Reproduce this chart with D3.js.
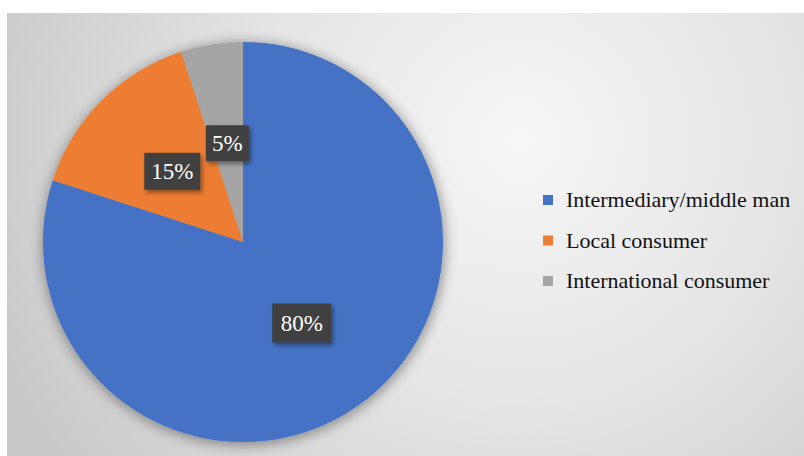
<!DOCTYPE html>
<html>
<head>
<meta charset="utf-8">
<script src="https://cdn.jsdelivr.net/npm/d3@7"></script>
<style>
  html, body { margin: 0; padding: 0; background: #fff; }
  svg { display: block; }
</style>
</head>
<body>
<svg id="chart" width="804" height="456"></svg>
<script>
// Buyer shares (percent)
const categories = ["Intermediary/middle man", "Local consumer", "International consumer"];
const values = [80, 15, 5];
const labels = ["80%", "15%", "5%"];
const colors = ["#4472c4", "#ed7d31", "#a5a5a5"];

const svg = d3.select("#chart");
const defs = svg.append("defs");

// Panel background: soft radial shading
const bg = defs.append("radialGradient").attr("id", "bgGrad")
  .attr("gradientUnits", "userSpaceOnUse")
  .attr("cx", 520).attr("cy", 140).attr("r", 560);
bg.append("stop").attr("offset", "0%").attr("stop-color", "#f6f6f6");
bg.append("stop").attr("offset", "45%").attr("stop-color", "#e6e6e6");
bg.append("stop").attr("offset", "100%").attr("stop-color", "#c9c9c9");

const pieShadow = defs.append("filter").attr("id", "pieShadow")
  .attr("x", "-20%").attr("y", "-20%").attr("width", "140%").attr("height", "140%");
pieShadow.append("feGaussianBlur").attr("in", "SourceAlpha").attr("stdDeviation", 7).attr("result", "b");
pieShadow.append("feOffset").attr("in", "b").attr("dx", 1).attr("dy", 2).attr("result", "o");
pieShadow.append("feComponentTransfer").attr("in", "o").attr("result", "s")
  .append("feFuncA").attr("type", "linear").attr("slope", 0.45);
const pm = pieShadow.append("feMerge");
pm.append("feMergeNode").attr("in", "s");
pm.append("feMergeNode").attr("in", "SourceGraphic");

const boxShadow = defs.append("filter").attr("id", "boxShadow")
  .attr("x", "-30%").attr("y", "-30%").attr("width", "160%").attr("height", "160%");
boxShadow.append("feGaussianBlur").attr("in", "SourceAlpha").attr("stdDeviation", 2).attr("result", "b");
boxShadow.append("feOffset").attr("in", "b").attr("dx", 2).attr("dy", 3).attr("result", "o");
boxShadow.append("feComponentTransfer").attr("in", "o").attr("result", "s")
  .append("feFuncA").attr("type", "linear").attr("slope", 0.4);
const bm = boxShadow.append("feMerge");
bm.append("feMergeNode").attr("in", "s");
bm.append("feMergeNode").attr("in", "SourceGraphic");

svg.append("rect").attr("x", 7).attr("y", 13).attr("width", 797).attr("height", 443)
  .attr("fill", "url(#bgGrad)");

const cx = 243, cy = 242, radius = 200;

const pie = d3.pie().sort(null).value(d => d)(values);
const arc = d3.arc().innerRadius(0).outerRadius(radius);

const g = svg.append("g").attr("transform", `translate(${cx},${cy})`);
g.append("g").attr("filter", "url(#pieShadow)")
  .selectAll("path").data(pie).join("path")
  .attr("d", arc)
  .attr("fill", (d, i) => colors[i]);

// Data labels sit at half the radius, in dark boxes with white serif text
const boxW = [59, 56, 43], boxH = [39, 37, 36];

const lab = g.append("g").selectAll("g").data(pie).join("g")
  .attr("transform", d => {
    const [x, y] = arc.centroid(d);
    return `translate(${x},${y})`;
  });
lab.append("rect")
  .attr("x", (d, i) => -boxW[i] / 2).attr("y", (d, i) => -boxH[i] / 2)
  .attr("width", (d, i) => boxW[i]).attr("height", (d, i) => boxH[i])
  .attr("fill", "#404040")
  .attr("filter", "url(#boxShadow)");
lab.append("text")
  .attr("text-anchor", "middle").attr("dy", "0.35em")
  .attr("fill", "#ffffff")
  .style("font-family", "'Liberation Serif', 'DejaVu Serif', serif")
  .style("font-size", "23px")
  .text((d, i) => labels[i]);

// Legend
const legend = svg.append("g").attr("transform", "translate(543,200)");
const rows = legend.selectAll("g").data(categories).join("g")
  .attr("transform", (d, i) => `translate(0,${i * 40.5})`);
rows.append("rect").attr("x", 0).attr("y", -5).attr("width", 10).attr("height", 10)
  .attr("fill", (d, i) => colors[i]);
rows.append("text").attr("x", 23).attr("y", 0).attr("dy", "0.33em")
  .attr("fill", "#111111")
  .style("font-family", "'Liberation Serif', 'DejaVu Serif', serif")
  .style("font-size", "22px")
  .text(d => d);
</script>
</body>
</html>
